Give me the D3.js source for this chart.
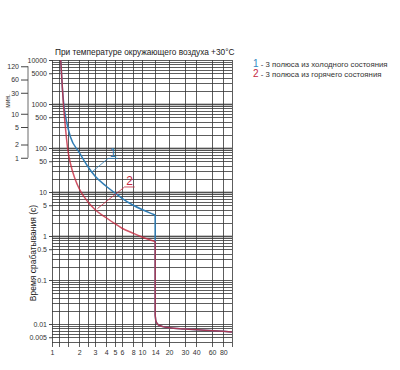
<!DOCTYPE html>
<html>
<head>
<meta charset="utf-8">
<script src="https://cdn.jsdelivr.net/npm/d3@7"></script>
<style>
  body { margin: 0; background: #fff; }
  svg { display: block; font-family: "Liberation Sans", Arial, sans-serif; }
</style>
</head>
<body>
<svg id="chart" width="400" height="370"></svg>
<script>
// tick values
var xTicks = [1, 2, 3, 4, 5, 6, 8, 10, 14, 20, 30, 40, 60, 80];
var xGrid = [1, 1.2, 1.5, 2, 2.5, 3, 4, 5, 6, 8, 10, 14, 20, 30, 40, 60, 80, 100];
var yTicks = [10000, 5000, 1000, 500, 100, 50, 10, 5, 1, 0.5, 0.1, 0.01, 0.005];
var minuteTicks = [120, 60, 30, 10, 5, 2, 1];

// curve 1: cold state (multiple of In, seconds)
var coldUpper = [[1.25, 10000], [1.3, 2500], [1.35, 1000], [1.45, 400], [1.6, 180], [2, 80],
  [2.5, 38], [3, 23], [4, 13.5], [5, 9.5], [6, 7.2], [8, 5], [10, 4], [12, 3.4], [14, 3.0]];
// curve 2: hot state
var hotUpper = [[1.25, 10000], [1.33, 1200], [1.42, 250], [1.5, 90], [1.6, 45], [1.8, 20],
  [2, 12], [2.5, 6], [3, 4], [4, 2.6], [5, 1.9], [6, 1.5], [8, 1.15], [10, 0.95], [14, 0.75]];
// instantaneous release tail, both curves
var tail = [[14, 0.016], [14.3, 0.0115], [15, 0.0098], [17, 0.0087], [20, 0.0082],
  [30, 0.0077], [50, 0.0072], [80, 0.0068], [100, 0.0066]];

var notes = [
  {label: '1', from: [2.75, 28], to: [4.2, 58], end: [5.4, 58], color: '#2f7db5'},
  {label: '2', from: [3.2, 4.2], to: [6.4, 13], end: [8.3, 13], color: '#c4283f'}
];

var legendItems = [
  {num: '1', text: ' - 3 полюса из холодного состояния', color: '#3388c2'},
  {num: '2', text: ' - 3 полюса из горячего состояния', color: '#c4283f'}
];

var svg = d3.select('#chart');
var plotLeft = 52, plotRight = 232, plotTop = 60, plotBottom = 347;

var x = d3.scaleLog().domain([1, 100]).range([plotLeft, plotRight]);
var y = d3.scaleLog().domain([0.003, 10000]).range([plotBottom, plotTop]);

// horizontal grid: 1..9 per decade
var hGrid = [];
for (var e = -3; e <= 3; e++) {
  for (var k = 1; k <= 9; k++) {
    var v = k * Math.pow(10, e);
    if (v >= 0.004) hGrid.push(+v.toPrecision(3));
  }
}
hGrid.push(10000);

var grid = svg.append('g');
// grey bands at decades
grid.selectAll('rect.band').data([1, 10, 100, 1000]).enter().append('rect')
  .attr('x', plotLeft).attr('width', plotRight - plotLeft)
  .attr('y', function(d) { return y(d) - 1; }).attr('height', 4)
  .attr('fill', '#c6c6c6');

grid.selectAll('line.h').data(hGrid).enter().append('line')
  .attr('x1', plotLeft).attr('x2', plotRight)
  .attr('y1', function(d) { return Math.round(y(d)) + 0.5; })
  .attr('y2', function(d) { return Math.round(y(d)) + 0.5; })
  .attr('stroke', '#333').attr('stroke-width', 0.8);

grid.selectAll('line.v').data(xGrid).enter().append('line')
  .attr('x1', function(d) { return Math.round(x(d)) + 0.5; })
  .attr('x2', function(d) { return Math.round(x(d)) + 0.5; })
  .attr('y1', plotTop).attr('y2', plotBottom)
  .attr('stroke', '#333').attr('stroke-width', 0.8);

// axes
var yAxis = d3.axisLeft(y).tickValues(yTicks).tickSize(3).tickPadding(2)
  .tickFormat(function(d) { return String(d); });
var yg = svg.append('g').attr('transform', 'translate(' + plotLeft + ',0)').call(yAxis);
yg.select('.domain').remove();

var xAxis = d3.axisBottom(x).tickValues(xTicks).tickSize(0).tickPadding(3)
  .tickFormat(function(d) { return String(d); });
var xg = svg.append('g').attr('transform', 'translate(0,' + plotBottom + ')').call(xAxis);
xg.select('.domain').remove();

[yg, xg].forEach(function(g) {
  g.selectAll('text').attr('font-size', 7).attr('fill', '#333')
    .attr('font-family', '"Liberation Sans", Arial, sans-serif');
  g.selectAll('.tick line').attr('stroke', '#444');
});

// minutes axis (same scale, minutes to seconds)
var minScale = d3.scaleLog().domain([0.003 / 60, 10000 / 60]).range([plotBottom, plotTop]);
var mg = svg.append('g').attr('transform', 'translate(28,0)')
  .call(d3.axisLeft(minScale).tickValues(minuteTicks).tickSize(7).tickPadding(2)
    .tickFormat(function(d) { return String(d); }));
mg.select('.domain').remove();
mg.append('line').attr('x1', 0).attr('x2', 0)
  .attr('y1', minScale(120)).attr('y2', minScale(1))
  .attr('stroke', '#444').attr('stroke-width', 0.8);
mg.selectAll('text').attr('font-size', 7).attr('fill', '#333')
  .attr('font-family', '"Liberation Sans", Arial, sans-serif');
mg.selectAll('.tick line').attr('stroke', '#444');

svg.append('text').attr('transform', 'translate(10,101) rotate(-90)')
  .attr('text-anchor', 'middle').attr('font-size', 6.5).attr('fill', '#333').text('мин.');

svg.append('text').attr('transform', 'translate(36,253) rotate(-90)')
  .attr('text-anchor', 'middle').attr('font-size', 8.5).attr('fill', '#222')
  .text('Время срабатывания (с)');

svg.append('text').attr('x', 55).attr('y', 55)
  .attr('font-size', 8.3).attr('fill', '#222')
  .text('При температуре окружающего воздуха +30°C');

// curves
var smooth = d3.line().x(function(d) { return x(d[0]); }).y(function(d) { return y(d[1]); })
  .curve(d3.curveMonotoneX);
var straight = d3.line().x(function(d) { return x(d[0]); }).y(function(d) { return y(d[1]); });

function drawSeries(upper, color, opacity) {
  var g = svg.append('g').attr('fill', 'none').attr('stroke', color)
    .attr('stroke-width', 1.5).attr('stroke-opacity', opacity);
  g.append('path').attr('d', smooth(upper));
  g.append('path').attr('d', straight([upper[upper.length - 1], tail[0]]));
  g.append('path').attr('d', smooth(tail));
}
drawSeries(coldUpper, '#2f7db5', 1);
drawSeries(hotUpper, '#c4283f', 0.8);

// curve labels with leaders
notes.forEach(function(n) {
  svg.append('polyline')
    .attr('points', [n.from, n.to, n.end].map(function(p) { return x(p[0]) + ',' + y(p[1]); }).join(' '))
    .attr('fill', 'none').attr('stroke', n.color).attr('stroke-width', 0.8);
  svg.append('text').attr('x', (x(n.to[0]) + x(n.end[0])) / 2).attr('y', y(n.to[1]) - 1.5)
    .attr('text-anchor', 'middle').attr('font-size', 12).attr('fill', n.color).text(n.label);
});

// legend
var lg = svg.append('g').attr('transform', 'translate(253,67)');
legendItems.forEach(function(d, i) {
  var t = lg.append('text').attr('y', i * 9.8);
  t.append('tspan').attr('font-size', 10).attr('fill', d.color).text(d.num);
  t.append('tspan').attr('font-size', 7.8).attr('fill', '#333').text(d.text);
});
</script>
</body>
</html>
